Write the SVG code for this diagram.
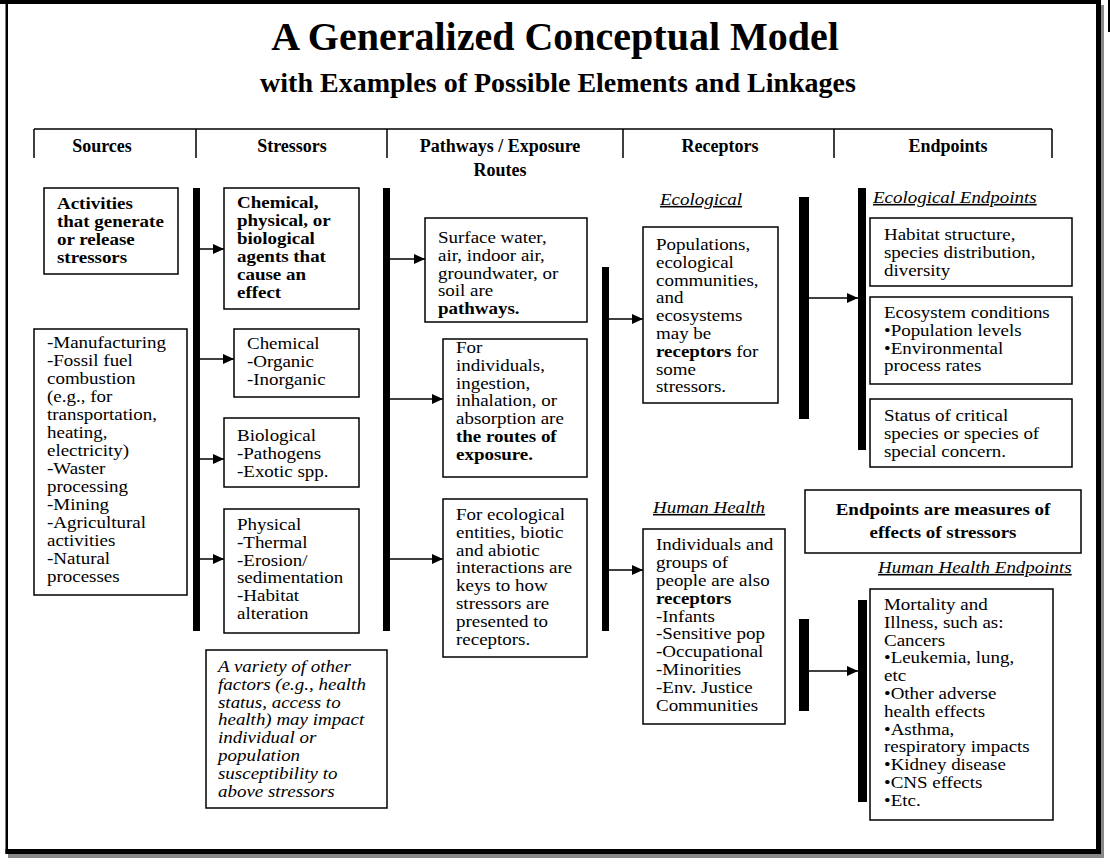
<svg xmlns="http://www.w3.org/2000/svg" width="1120" height="858" viewBox="0 0 1120 858">
<style>
.t{font-family:"Liberation Serif","Times New Roman",serif;font-size:15.8px;fill:#000}
.b{font-weight:bold}
.i{font-style:italic}
.u{text-decoration:underline}
.h{font-family:"Liberation Serif","Times New Roman",serif;font-size:18px;font-weight:bold;text-anchor:middle;fill:#000}
.box{fill:#fff;stroke:#000;stroke-width:1.5}
.bar{fill:#000}
.ln{stroke:#000;stroke-width:1.5;fill:none}
.con{stroke:#000;stroke-width:1.5;fill:none;marker-end:url(#ah)}
</style>
<defs>
<marker id="ah" markerWidth="11" markerHeight="10" refX="11" refY="5" orient="auto" markerUnits="userSpaceOnUse">
<path d="M0,0 L11,5 L0,10 z" fill="#000"/>
</marker>
</defs>
<rect x="0" y="0" width="1120" height="858" fill="#fff"/>
<g id="frame">
<rect x="0" y="0" width="1101" height="4" fill="#000"/>
<rect x="5.5" y="0" width="2.5" height="854" fill="#000"/>
<rect x="1096" y="0" width="5" height="854" fill="#000"/>
<rect x="5.5" y="849" width="1095.5" height="5" fill="#000"/>
<rect x="1101" y="5" width="3" height="853" fill="#888"/>
<rect x="8" y="854" width="1096" height="4" fill="#888"/>
<rect x="1108" y="0" width="2" height="32" fill="#000"/>
</g>
<g id="title">
<text x="555" y="50" text-anchor="middle" style="font-family:'Liberation Serif','Times New Roman',serif;font-size:40px;font-weight:bold">A Generalized Conceptual Model</text>
<text x="558" y="92" text-anchor="middle" style="font-family:'Liberation Serif','Times New Roman',serif;font-size:28px;font-weight:bold">with Examples of Possible Elements and Linkages</text>
</g>
<g id="header">
<path class="ln" d="M34,129 H1052 M34,129 V158 M196,129 V158 M387,129 V158 M623,129 V158 M834,129 V158 M1052,129 V158"/>
<text class="h" x="102" y="152">Sources</text>
<text class="h" x="292" y="152">Stressors</text>
<text class="h" x="500" y="152">Pathways / Exposure</text>
<text class="h" x="500" y="176">Routes</text>
<text class="h" x="720" y="152">Receptors</text>
<text class="h" x="948" y="152">Endpoints</text>
</g>
<g id="bars">
<rect class="bar" x="193" y="188" width="7" height="443"/>
<rect class="bar" x="383" y="188" width="7" height="443"/>
<rect class="bar" x="602" y="267" width="7" height="364"/>
<rect class="bar" x="799" y="197" width="10" height="222"/>
<rect class="bar" x="858" y="188" width="8" height="262"/>
<rect class="bar" x="799" y="619" width="10" height="92"/>
<rect class="bar" x="858" y="600" width="9" height="202"/>
</g>
<g id="connectors">
<path class="con" d="M200,249 H224"/>
<path class="con" d="M200,359 H234"/>
<path class="con" d="M200,459 H224"/>
<path class="con" d="M200,559 H224"/>
<path class="con" d="M390,259 H425"/>
<path class="con" d="M390,399 H443"/>
<path class="con" d="M390,559 H443"/>
<path class="con" d="M609,319 H643"/>
<path class="con" d="M609,570 H643"/>
<path class="con" d="M809,298 H858"/>
<path class="con" d="M809,671 H858"/>
</g>
<g id="n-activities">
<rect class="box" x="44" y="188" width="134" height="86"/>
<text class="t b" transform="matrix(1.2 0 0 1 57 0)" y="209"><tspan x="0">Activities</tspan><tspan x="0" dy="18">that generate</tspan><tspan x="0" dy="18">or release</tspan><tspan x="0" dy="18">stressors</tspan></text>
</g>
<g id="n-sources-list">
<rect class="box" x="34" y="329" width="153" height="266"/>
<text class="t" transform="matrix(1.2 0 0 1 47 0)" y="348"><tspan x="0">-Manufacturing</tspan><tspan x="0" dy="18">-Fossil fuel</tspan><tspan x="0" dy="18">combustion</tspan><tspan x="0" dy="18">(e.g., for</tspan><tspan x="0" dy="18">transportation,</tspan><tspan x="0" dy="18">heating,</tspan><tspan x="0" dy="18">electricity)</tspan><tspan x="0" dy="18">-Waster</tspan><tspan x="0" dy="18">processing</tspan><tspan x="0" dy="18">-Mining</tspan><tspan x="0" dy="18">-Agricultural</tspan><tspan x="0" dy="18">activities</tspan><tspan x="0" dy="18">-Natural</tspan><tspan x="0" dy="18">processes</tspan></text>
</g>
<g id="n-stressors-def">
<rect class="box" x="224" y="188" width="135" height="121"/>
<text class="t b" transform="matrix(1.2 0 0 1 237 0)" y="208"><tspan x="0">Chemical,</tspan><tspan x="0" dy="18">physical, or</tspan><tspan x="0" dy="18">biological</tspan><tspan x="0" dy="18">agents that</tspan><tspan x="0" dy="18">cause an</tspan><tspan x="0" dy="18">effect</tspan></text>
</g>
<g id="n-chemical">
<rect class="box" x="234" y="329" width="125" height="68"/>
<text class="t" transform="matrix(1.2 0 0 1 247 0)" y="349"><tspan x="0">Chemical</tspan><tspan x="0" dy="18">-Organic</tspan><tspan x="0" dy="18">-Inorganic</tspan></text>
</g>
<g id="n-biological">
<rect class="box" x="224" y="418" width="135" height="69"/>
<text class="t" transform="matrix(1.2 0 0 1 237 0)" y="441"><tspan x="0">Biological</tspan><tspan x="0" dy="17.8">-Pathogens</tspan><tspan x="0" dy="17.8">-Exotic spp.</tspan></text>
</g>
<g id="n-physical">
<rect class="box" x="224" y="509" width="135" height="124"/>
<text class="t" transform="matrix(1.2 0 0 1 237 0)" y="530"><tspan x="0">Physical</tspan><tspan x="0" dy="17.8">-Thermal</tspan><tspan x="0" dy="17.8">-Erosion/</tspan><tspan x="0" dy="17.8">sedimentation</tspan><tspan x="0" dy="17.8">-Habitat</tspan><tspan x="0" dy="17.8">alteration</tspan></text>
</g>
<g id="n-factors">
<rect class="box" x="206" y="650" width="181" height="158"/>
<text class="t i" transform="matrix(1.2 0 0 1 218 0)" y="672"><tspan x="0">A variety of other</tspan><tspan x="0" dy="17.8">factors (e.g., health</tspan><tspan x="0" dy="17.8">status, access to</tspan><tspan x="0" dy="17.8">health) may impact</tspan><tspan x="0" dy="17.8">individual or</tspan><tspan x="0" dy="17.8">population</tspan><tspan x="0" dy="17.8">susceptibility to</tspan><tspan x="0" dy="17.8">above stressors</tspan></text>
</g>
<g id="n-pathways">
<rect class="box" x="425" y="218" width="162" height="104"/>
<text class="t" transform="matrix(1.2 0 0 1 438 0)" y="243"><tspan x="0">Surface water,</tspan><tspan x="0" dy="17.8">air, indoor air,</tspan><tspan x="0" dy="17.8">groundwater, or</tspan><tspan x="0" dy="17.8">soil are</tspan><tspan x="0" dy="17.8" class="b">pathways.</tspan></text>
</g>
<g id="n-routes">
<rect class="box" x="443" y="339" width="144" height="138"/>
<text class="t" transform="matrix(1.2 0 0 1 456 0)" y="353"><tspan x="0">For</tspan><tspan x="0" dy="17.8">individuals,</tspan><tspan x="0" dy="17.8">ingestion,</tspan><tspan x="0" dy="17.8">inhalation, or</tspan><tspan x="0" dy="17.8">absorption are</tspan><tspan x="0" dy="17.8" class="b">the routes of</tspan><tspan x="0" dy="17.8" class="b">exposure.</tspan></text>
</g>
<g id="n-interactions">
<rect class="box" x="443" y="499" width="144" height="158"/>
<text class="t" transform="matrix(1.2 0 0 1 456 0)" y="520"><tspan x="0">For ecological</tspan><tspan x="0" dy="17.8">entities, biotic</tspan><tspan x="0" dy="17.8">and abiotic</tspan><tspan x="0" dy="17.8">interactions are</tspan><tspan x="0" dy="17.8">keys to how</tspan><tspan x="0" dy="17.8">stressors are</tspan><tspan x="0" dy="17.8">presented to</tspan><tspan x="0" dy="17.8">receptors.</tspan></text>
</g>
<g id="n-eco-receptors">
<text class="t i u" transform="matrix(1.2 0 0 1 660 0)" x="0" y="205">Ecological</text>
<rect class="box" x="643" y="227" width="135" height="176"/>
<text class="t" transform="matrix(1.2 0 0 1 656 0)" y="250"><tspan x="0">Populations,</tspan><tspan x="0" dy="17.8">ecological</tspan><tspan x="0" dy="17.8">communities,</tspan><tspan x="0" dy="17.8">and</tspan><tspan x="0" dy="17.8">ecosystems</tspan><tspan x="0" dy="17.8">may be</tspan><tspan x="0" dy="17.8" class="b">receptors</tspan><tspan> for</tspan><tspan x="0" dy="17.8">some</tspan><tspan x="0" dy="17.8">stressors.</tspan></text>
</g>
<g id="n-human-receptors">
<text class="t i u" transform="matrix(1.2 0 0 1 653 0)" x="0" y="513">Human Health</text>
<rect class="box" x="643" y="529" width="142" height="195"/>
<text class="t" transform="matrix(1.2 0 0 1 656 0)" y="550"><tspan x="0">Individuals and</tspan><tspan x="0" dy="17.9">groups of</tspan><tspan x="0" dy="17.9">people are also</tspan><tspan x="0" dy="17.9" class="b">receptors</tspan><tspan x="0" dy="17.9">-Infants</tspan><tspan x="0" dy="17.9">-Sensitive pop</tspan><tspan x="0" dy="17.9">-Occupational</tspan><tspan x="0" dy="17.9">-Minorities</tspan><tspan x="0" dy="17.9">-Env. Justice</tspan><tspan x="0" dy="17.9">Communities</tspan></text>
</g>
<g id="n-eco-endpoints">
<text class="t i u" transform="matrix(1.2 0 0 1 873 0)" x="0" y="203">Ecological Endpoints</text>
<rect class="box" x="870" y="218" width="202" height="68"/>
<text class="t" transform="matrix(1.2 0 0 1 884 0)" y="240"><tspan x="0">Habitat structure,</tspan><tspan x="0" dy="17.8">species distribution,</tspan><tspan x="0" dy="17.8">diversity</tspan></text>
<rect class="box" x="870" y="297" width="202" height="87"/>
<text class="t" transform="matrix(1.2 0 0 1 884 0)" y="318"><tspan x="0">Ecosystem conditions</tspan><tspan x="0" dy="17.8">•Population levels</tspan><tspan x="0" dy="17.8">•Environmental</tspan><tspan x="0" dy="17.8">process rates</tspan></text>
<rect class="box" x="870" y="399" width="202" height="68"/>
<text class="t" transform="matrix(1.2 0 0 1 884 0)" y="421"><tspan x="0">Status of critical</tspan><tspan x="0" dy="17.8">species or species of</tspan><tspan x="0" dy="17.8">special concern.</tspan></text>
</g>
<g id="n-endpoints-note">
<rect class="box" x="805" y="490" width="276" height="63"/>
<text class="t b" transform="matrix(1.2 0 0 1 943 0)" y="515" text-anchor="middle"><tspan x="0">Endpoints are measures of</tspan><tspan x="0" dy="23">effects of stressors</tspan></text>
</g>
<g id="n-human-endpoints">
<text class="t i u" transform="matrix(1.2 0 0 1 878 0)" x="0" y="573">Human Health Endpoints</text>
<rect class="box" x="870" y="589" width="183" height="231"/>
<text class="t" transform="matrix(1.2 0 0 1 884 0)" y="610"><tspan x="0">Mortality and</tspan><tspan x="0" dy="17.8">Illness, such as:</tspan><tspan x="0" dy="17.8">Cancers</tspan><tspan x="0" dy="17.8">•Leukemia, lung,</tspan><tspan x="0" dy="17.8">etc</tspan><tspan x="0" dy="17.8">•Other adverse</tspan><tspan x="0" dy="17.8">health effects</tspan><tspan x="0" dy="17.8">•Asthma,</tspan><tspan x="0" dy="17.8">respiratory impacts</tspan><tspan x="0" dy="17.8">•Kidney disease</tspan><tspan x="0" dy="17.8">•CNS effects</tspan><tspan x="0" dy="17.8">•Etc.</tspan></text>
</g>
</svg>
